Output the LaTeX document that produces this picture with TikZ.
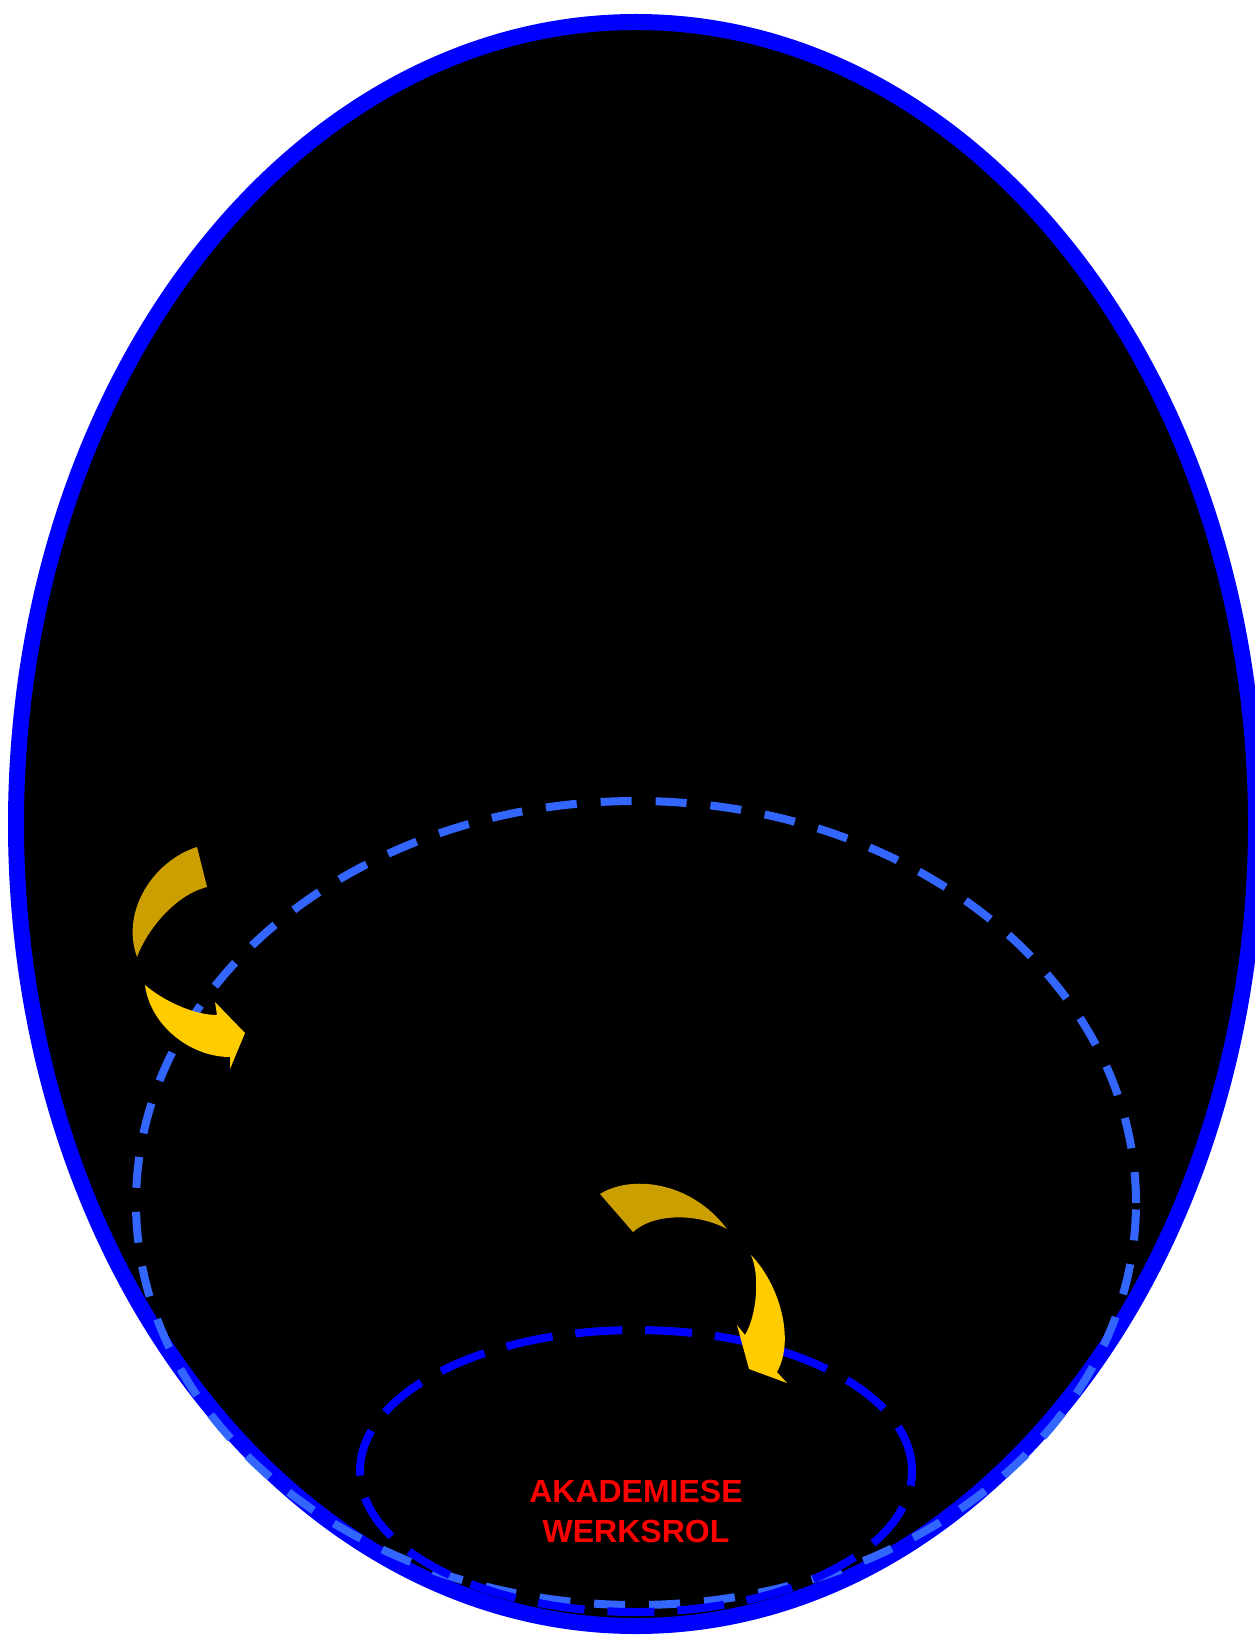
\documentclass[tikz,border=0pt]{standalone}
\usepackage{fontspec}
\setmainfont{Liberation Sans}
\definecolor{ringblue}{HTML}{0000FF}
\definecolor{dashblue}{HTML}{3366FF}
\definecolor{darkgold}{HTML}{CC9F00}
\definecolor{brightgold}{HTML}{FFCC00}
\definecolor{rolred}{HTML}{FF0000}

\begin{document}
\begin{tikzpicture}[
  x=0.5pt, y=-0.5pt,
  ring/.style={draw=ringblue, line width=8pt, fill=black},
  bigdash/.style={draw=dashblue, line width=4pt, dash pattern=on 15.5pt off 12pt},
  smalldash/.style={draw=ringblue, line width=4pt, dash pattern=on 23.5pt off 11.5pt},
  tailpart/.style={fill=darkgold},
  headpart/.style={fill=brightgold},
  rollbl/.style={font=\fontsize{16}{20}\selectfont\bfseries, text=rolred, align=center},
]

% Background
\fill[white] (0,0) rectangle (1254,1636);
\useasboundingbox (0,0) rectangle (1254,1636);

% Outer ring
\path[ring] (636,824) ellipse [x radius=310pt, y radius=401pt];

% Dashed rings
\path[bigdash] (636,1203) ellipse [x radius=250pt, y radius=201pt];
\path[smalldash] (636,1471) ellipse [x radius=138pt, y radius=70.5pt];

% Left arrow
\fill[tailpart] (197,847) .. controls (155,860) and (120,910) .. (137,957)
  .. controls (147,930) and (175,895) .. (207,887) -- cycle;
\fill[headpart] (145,985) .. controls (150,1025) and (190,1057) .. (230,1057)
  -- (230,1069) -- (245,1033) -- (215,1002) -- (217,1015)
  .. controls (195,1015) and (165,1002) .. (145,985) -- cycle;

% Lower arrow
\fill[tailpart] (600,1194) .. controls (630,1175) and (690,1180) .. (727,1229)
  .. controls (700,1214) and (655,1212) .. (633,1232) -- cycle;
\fill[headpart] (751,1255) .. controls (780,1285) and (795,1340) .. (777,1372)
  -- (787,1383) -- (749,1369) -- (737,1325) -- (745,1335)
  .. controls (757,1315) and (760,1275) .. (751,1255) -- cycle;

% Label
\node[rollbl] (werksrol) at (636,1511) {AKADEMIESE\\WERKSROL};

\end{tikzpicture}
\end{document}
